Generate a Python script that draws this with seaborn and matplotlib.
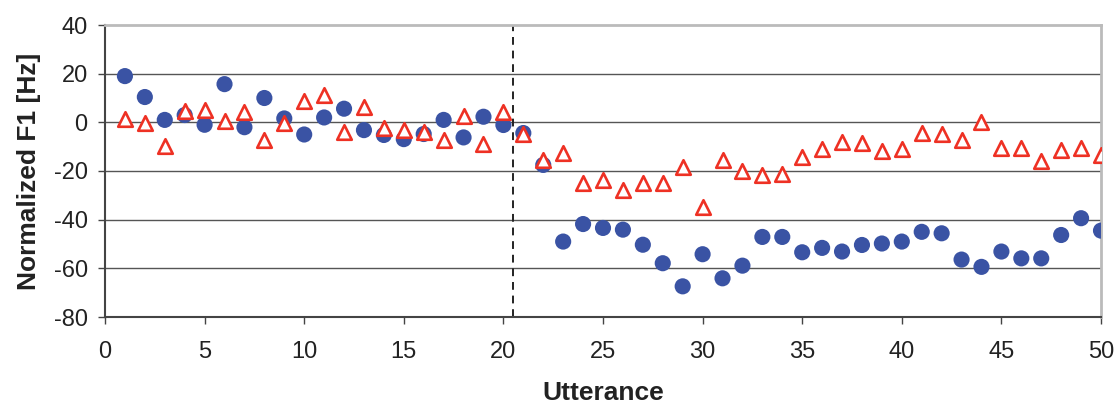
import matplotlib
matplotlib.use("Agg")
import matplotlib.pyplot as plt
import seaborn as sns
import numpy as np
import pandas as pd

utterance = list(range(1, 51))
circle_vals = [19, 10.4, 1, 3, -1, 15.7, -2, 10, 1.6, -5,
               2, 5.6, -3.2, -5.2, -6.9, -4.8, 1, -6.2, 2.3, -1.1,
               -4.4, -17.5, -49, -41.8, -43.4, -44.1, -50.3, -57.9, -67.4, -54.2,
               -64.1, -58.9, -47.1, -47.1, -53.4, -51.6, -53.1, -50.4, -49.8, -49,
               -45, -45.6, -56.4, -59.4, -53.1, -55.9, -55.9, -46.3, -39.4, -44.5]
triangle_vals = [1.5, -0.3, -9.6, 4.5, 4.9, 0.7, 4.4, -7.1, -0.3, 8.7,
                 11.2, -3.8, 6.1, -2.2, -3, -3.8, -7.4, 2.5, -8.8, 4.4,
                 -4.9, -15.3, -12.6, -24.9, -23.6, -27.8, -24.9, -25, -18.4, -35,
                 -15.5, -20, -21.5, -21.2, -14.4, -11, -8, -8.6, -11.6, -11,
                 -4.4, -4.7, -7.1, 0, -10.6, -10.7, -15.8, -11.2, -10.6, -13.4]
split_x = 20.5
x_ticks = list(range(0, 51, 5))
y_ticks = list(range(-80, 41, 20))

sns.set_theme(style="white")
plt.rcParams['font.family'] = ['Liberation Sans', 'DejaVu Sans']
plt.rcParams['axes.unicode_minus'] = False

df = pd.DataFrame({"Utterance": utterance, "circ": circle_vals, "tri": triangle_vals})

fig = plt.figure(figsize=(11.16, 4.05), dpi=100)
ax = fig.add_axes([105/1116, 1 - 317/405, (1101-105)/1116, (317-25)/405])

for y in y_ticks[1:-1]:
    ax.axhline(y, color="#555555", lw=1.0, zorder=0)

sns.scatterplot(data=df, x="Utterance", y="circ", ax=ax, marker="o", s=135,
                color="#3A53A4", edgecolor="none", zorder=3)
sns.scatterplot(data=df, x="Utterance", y="tri", ax=ax, marker="^", s=110,
                facecolor="white", edgecolor="#EE3124", linewidth=1.9, zorder=4)

ax.axvline(split_x, color="#222222", lw=1.4, ls=(0, (4, 3)), zorder=2)

ax.set_xlim(0, 50)
ax.set_ylim(-80, 40)
ax.set_xticks(x_ticks)
ax.set_yticks(y_ticks)
ax.tick_params(axis="both", which="both", direction="out", length=5, width=1,
               color="#444444", labelsize=17, labelcolor="#222222", left=True, bottom=True)
ax.tick_params(axis="x", pad=12)
ax.tick_params(axis="y", pad=7.5)

for side in ["left", "bottom"]:
    ax.spines[side].set_color("#444444")
    ax.spines[side].set_linewidth(1.5)
for side in ["top", "right"]:
    ax.spines[side].set_color("#BBBBBB")
    ax.spines[side].set_linewidth(2)

ax.set_xlabel("Utterance", fontsize=19, fontweight="bold", labelpad=13, color="#222222")
ax.set_ylabel("Normalized F1 [Hz]", fontsize=19, fontweight="bold", labelpad=9, color="#222222")

fig.savefig("out.png", dpi=100)
